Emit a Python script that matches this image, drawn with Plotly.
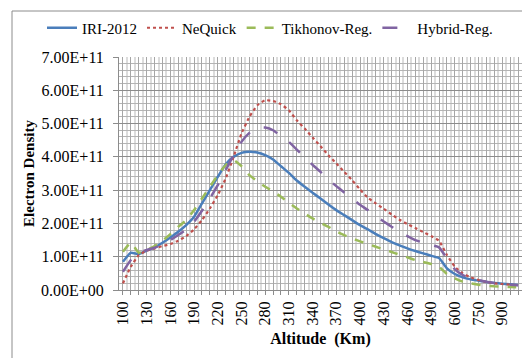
import plotly.graph_objects as go

altitudes = [100, 110, 120, 130, 140, 150, 160, 170, 180, 190,
             200, 210, 220, 230, 240, 250, 260, 270, 280, 290,
             300, 310, 320, 330, 340, 350, 360, 370, 380, 390,
             400, 410, 420, 430, 440, 450, 460, 470, 480, 490,
             500, 550, 600, 650, 700, 750, 800, 850, 900, 950, 1000]

iri_2012 = [0.85, 1.12, 1.08, 1.18, 1.28, 1.42, 1.58, 1.75, 1.95, 2.2,
            2.6, 3.0, 3.4, 3.78, 4.0, 4.12, 4.15, 4.13, 4.05, 3.92,
            3.72, 3.52, 3.29, 3.1, 2.92, 2.75, 2.57, 2.4, 2.25, 2.1,
            1.95, 1.82, 1.68, 1.56, 1.44, 1.34, 1.25, 1.17, 1.1, 1.03,
            0.96, 0.65, 0.48, 0.38, 0.32, 0.28, 0.24, 0.21, 0.19, 0.17, 0.15]

nequick = [0.2, 0.7, 1.05, 1.18, 1.25, 1.32, 1.38, 1.48, 1.62, 1.82,
           2.1, 2.45, 2.85, 3.35, 4.0, 4.7, 5.2, 5.55, 5.7, 5.68,
           5.58, 5.4, 5.1, 4.85, 4.58, 4.32, 4.05, 3.8, 3.55, 3.3,
           3.02, 2.77, 2.6, 2.44, 2.27, 2.11, 1.98, 1.86, 1.74, 1.62,
           1.48, 1.05, 0.7, 0.5, 0.38, 0.3, 0.24, 0.2, 0.18, 0.16, 0.14]

tikhonov_reg = [1.15, 1.42, 1.12, 1.2, 1.32, 1.48, 1.68, 1.9, 2.1, 2.4,
                2.75, 3.1, 3.45, 3.75, 3.9, 3.72, 3.45, 3.27, 3.1, 2.96,
                2.8, 2.62, 2.45, 2.3, 2.15, 2.02, 1.9, 1.76, 1.65, 1.55,
                1.46, 1.38, 1.3, 1.22, 1.14, 1.06, 0.98, 0.9, 0.84, 0.78,
                0.7, 0.48, 0.35, 0.25, 0.2, 0.16, 0.13, 0.11, 0.1, 0.09, 0.08]

hybrid_reg = [0.55, 0.9, 1.12, 1.2, 1.27, 1.38, 1.5, 1.65, 1.82, 2.05,
              2.38, 2.75, 3.15, 3.6, 4.05, 4.45, 4.72, 4.88, 4.88, 4.8,
              4.62, 4.45, 4.22, 3.98, 3.76, 3.55, 3.32, 3.12, 2.93, 2.75,
              2.56, 2.4, 2.22, 2.06, 1.9, 1.75, 1.62, 1.5, 1.42, 1.35,
              1.28, 0.95, 0.62, 0.45, 0.36, 0.3, 0.25, 0.21, 0.18, 0.16, 0.14]

y_tick_values = [0, 1e11, 2e11, 3e11, 4e11, 5e11, 6e11, 7e11]
y_tick_labels = ["0.00E+00", "1.00E+11", "2.00E+11", "3.00E+11",
                 "4.00E+11", "5.00E+11", "6.00E+11", "7.00E+11"]
scale = 1e11

idx = list(range(len(altitudes)))
x_ticktext = [str(a) if i % 3 == 0 else "" for i, a in enumerate(altitudes)]

series = [
    ("IRI-2012", iri_2012, "#4a7ebb", "solid", 2.5),
    ("NeQuick", nequick, "#c0504d", "dot", 2.2),
    ("Tikhonov-Reg.", tikhonov_reg, "#9bbb59", "dash", 2.5),
    ("Hybrid-Reg.", hybrid_reg, "#8064a2", "longdash", 2.5),
]

fig = go.Figure()
for name, vals, color, dash, w in series:
    fig.add_trace(go.Scatter(
        x=idx, y=[v * scale for v in vals], mode="lines", name=name,
        line=dict(color=color, dash=dash, width=w, shape="spline", smoothing=0.4),
        customdata=altitudes,
    ))

serif = "Liberation Serif, Times New Roman, serif"
fig.update_layout(
    width=522, height=358,
    margin=dict(l=119, r=0, t=57, b=68, autoexpand=False),
    paper_bgcolor="white", plot_bgcolor="white",
    font=dict(family=serif, size=16, color="black"),
    showlegend=True,
    legend=dict(orientation="h", x=(42 - 119) / 403, xanchor="left",
                y=(290 - 28) / 233, yanchor="middle",
                font=dict(family=serif, size=15), bgcolor="rgba(0,0,0,0)",
                itemwidth=30, tracegroupgap=0),
    xaxis=dict(
        range=[-0.5, len(altitudes) - 0.5],
        tickmode="array", tickvals=idx, ticktext=x_ticktext,
        tickangle=-90, tickfont=dict(family=serif, size=16),
        ticks="outside", ticklen=4, tickcolor="#8c8c8c",
        showgrid=True, gridcolor="#a6a6a6", gridwidth=1,
        minor=dict(tickmode="linear", tick0=0.5, dtick=1, showgrid=True,
                   gridcolor="#dcdcdc", gridwidth=2),
        showline=True, linecolor="#8c8c8c", linewidth=1,
        zeroline=False,
        title=dict(text="<b>Altitude  (Km)</b>", font=dict(family=serif, size=16), standoff=8),
    ),
    yaxis=dict(
        range=[0, 7e11],
        tickmode="array", tickvals=y_tick_values, ticktext=y_tick_labels,
        tickfont=dict(family=serif, size=16),
        ticks="outside", ticklen=5, tickcolor="#8c8c8c",
        ticklabelstandoff=6,
        showgrid=True, gridcolor="#8c8c8c", gridwidth=1,
        minor=dict(tickmode="linear", tick0=0, dtick=2e10, showgrid=True,
                   gridcolor="#b4b4b4", gridwidth=1),
        showline=True, linecolor="#8c8c8c", linewidth=1,
        zeroline=False,
        title=dict(text="<b>Electron Density</b>", font=dict(family=serif, size=15), standoff=2),
    ),
    shapes=[dict(type="rect", xref="paper", yref="paper",
                 x0=(12 - 119) / 403, x1=1.2, y0=-0.5, y1=(290 - 11) / 233,
                 line=dict(color="#8c8c8c", width=1), layer="below")],
)

fig.write_html("out.html")
